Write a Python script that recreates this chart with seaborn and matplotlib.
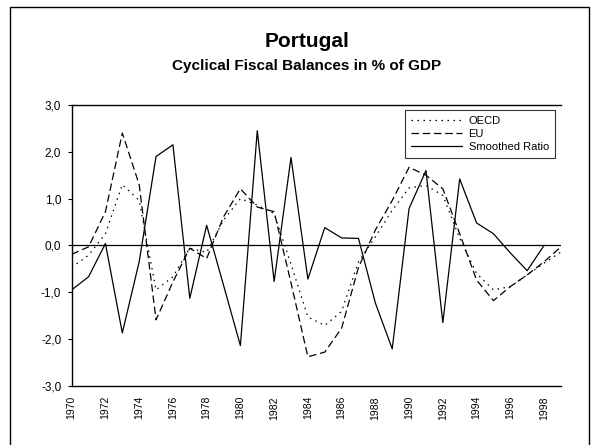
import numpy as np
import pandas as pd
import seaborn as sns
import matplotlib.pyplot as plt
from matplotlib.patches import Rectangle

# values (% of GDP)
years = list(range(1970, 2000))
oecd = [-0.47, -0.21, 0.25, 1.30, 0.96, -0.95, -0.67, -0.06, -0.15, 0.54,
        1.00, 0.86, 0.68, -0.40, -1.53, -1.71, -1.41, -0.35, 0.18, 0.75,
        1.23, 1.28, 1.07, 0.15, -0.60, -0.95, -0.88, -0.63, -0.38, -0.14]
eu = [-0.19, -0.03, 0.72, 2.40, 1.30, -1.59, -0.78, -0.06, -0.28, 0.61,
      1.21, 0.82, 0.72, -0.80, -2.38, -2.28, -1.77, -0.47, 0.33, 0.96,
      1.67, 1.50, 1.21, 0.25, -0.74, -1.18, -0.88, -0.63, -0.35, -0.03]
smoothed = [-0.95, -0.67, 0.04, -1.87, -0.35, 1.90, 2.15, -1.13, 0.43, -0.85,
            -2.14, 2.45, -0.77, 1.88, -0.72, 0.38, 0.16, 0.15, -1.23, -2.21,
            0.79, 1.60, -1.65, 1.42, 0.48, 0.25, -0.16, -0.54, 0.00, np.nan]

series = {"OECD": oecd, "EU": eu, "Smoothed Ratio": smoothed}
styles = {"OECD": (0, (1.2, 3.6)), "EU": (0, (6, 3)), "Smoothed Ratio": "-"}

sns.set_style("white")
plt.rcParams["font.family"] = ["Liberation Sans", "DejaVu Sans"]
plt.rcParams["text.color"] = "black"
plt.rcParams["xtick.color"] = "black"
plt.rcParams["ytick.color"] = "black"

fig = plt.figure(figsize=(5.93, 4.45), dpi=100)
ax = fig.add_axes([0.1209, 0.133, 0.825, 0.631])

for name, vals in series.items():
    df = pd.DataFrame({"year": years, "value": vals})
    sns.lineplot(data=df, x="year", y="value", ax=ax, color="black",
                 linewidth=0.9, linestyle=styles[name], label=name)

ax.axhline(0, color="black", linewidth=0.9)

ax.set_xlim(1970, 1999)
ax.set_ylim(-3, 3)
ax.set_xlabel("")
ax.set_ylabel("")
ax.set_xticks(list(range(1970, 1999, 2)))
ax.set_xticks(years, minor=True)
ax.set_xticklabels([str(y) for y in range(1970, 1999, 2)], rotation=90, fontsize=7.5)
yt = [-3, -2, -1, 0, 1, 2, 3]
ax.set_yticks(yt)
ax.set_yticklabels([f"{v:.1f}".replace(".", ",") for v in yt], fontsize=8.5)
ax.tick_params(axis="x", which="both", direction="inout", length=4.8, width=0.8, pad=5)
ax.tick_params(axis="y", direction="out", length=3, width=0.8, pad=4.5, left=True)

for side in ["left", "bottom", "top"]:
    ax.spines[side].set_visible(True)
    ax.spines[side].set_color("black")
    ax.spines[side].set_linewidth(1.0)
ax.spines["right"].set_visible(False)

leg = ax.legend(loc="upper right", bbox_to_anchor=(0.9877, 0.982), fontsize=8,
                frameon=True, fancybox=False, edgecolor="black",
                handlelength=4.6, handletextpad=0.55, borderpad=0.55,
                labelspacing=0.25, borderaxespad=0)
leg.get_frame().set_linewidth(0.8)

fig.text(0.517, 0.8937, "Portugal", ha="center", va="baseline",
         fontsize=15, fontweight="bold")
fig.text(0.517, 0.8427, "Cyclical Fiscal Balances in % of GDP", ha="center",
         va="baseline", fontsize=11, fontweight="bold")

fig.patches.append(Rectangle((0.017, -0.05), 0.976, 1.034, transform=fig.transFigure,
                             fill=False, edgecolor="black", linewidth=1.0))

fig.savefig("out.png", dpi=100)
